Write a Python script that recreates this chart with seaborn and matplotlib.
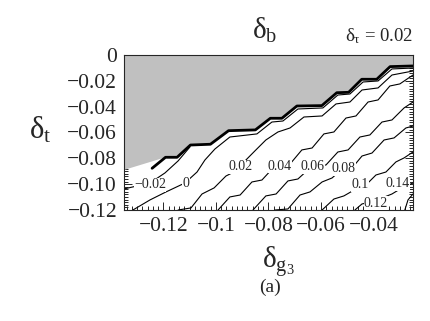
import numpy as np
import pandas as pd
import seaborn as sns
import matplotlib
matplotlib.use("Agg")
import matplotlib.pyplot as plt
from matplotlib.ticker import FixedLocator, FixedFormatter, MultipleLocator

sns.set_style("ticks")
plt.rcParams['font.family'] = ['Liberation Serif', 'DejaVu Serif']
plt.rcParams['mathtext.fontset'] = 'custom'
plt.rcParams['mathtext.rm'] = 'Liberation Serif'
plt.rcParams['mathtext.it'] = 'Liberation Serif'
plt.rcParams['mathtext.bf'] = 'Liberation Serif:bold'

# boundary of the allowed region (thick line), gray above it
bound_x = [-0.1243, -0.1192, -0.1148, -0.1097, -0.1021, -0.0952, -0.0850, -0.0793, -0.0749,
           -0.0692, -0.0597, -0.0540, -0.0495, -0.0445, -0.0388, -0.0337, -0.0250]
bound_y = [-0.0877, -0.0792, -0.0792, -0.0697, -0.0691, -0.0586, -0.0580, -0.0490, -0.0490,
           -0.0395, -0.0392, -0.0292, -0.0289, -0.0188, -0.0188, -0.0090, -0.0085]
gray_x = [-0.135, -0.135, -0.1192] + bound_x[2:] + [-0.025]
gray_y = [0.0, -0.089, -0.0792] + bound_y[2:] + [0.0]

# contour lines, one per level
x_m002 = [-0.1350, -0.1251, -0.1194, -0.1144, -0.1099]
y_m002 = [-0.1037, -0.0991, -0.0913, -0.0820, -0.0712]
x_000 = [-0.1316, -0.1251, -0.1190, -0.1118, -0.1072, -0.1042, -0.1004, -0.0947, -0.0844, -0.0787,
         -0.0745, -0.0688, -0.0593, -0.0536, -0.0490, -0.0440, -0.0383, -0.0330, -0.0250]
y_000 = [-0.1200, -0.1122, -0.1060, -0.0991, -0.0906, -0.0813, -0.0728, -0.0635, -0.0611, -0.0519,
         -0.0511, -0.0418, -0.0410, -0.0310, -0.0302, -0.0209, -0.0201, -0.0108, -0.0101]
x_002 = [-0.1144, -0.1095, -0.1053, -0.1007, -0.0962, -0.0924, -0.0886, -0.0848, -0.0810, -0.0764,
         -0.0718, -0.0665, -0.0596, -0.0543, -0.0490, -0.0444, -0.0383, -0.0330, -0.0250]
y_002 = [-0.1200, -0.1184, -0.1076, -0.1029, -0.0937, -0.0898, -0.0813, -0.0735, -0.0658, -0.0596,
         -0.0565, -0.0480, -0.0472, -0.0379, -0.0364, -0.0271, -0.0255, -0.0155, -0.0124]
x_004 = [-0.0992, -0.0947, -0.0908, -0.0863, -0.0825, -0.0779, -0.0718, -0.0673, -0.0634, -0.0589,
         -0.0551, -0.0505, -0.0467, -0.0421, -0.0383, -0.0338, -0.0300, -0.0250]
y_004 = [-0.1200, -0.1099, -0.1084, -0.0983, -0.0968, -0.0867, -0.0844, -0.0735, -0.0720, -0.0611,
         -0.0596, -0.0488, -0.0472, -0.0364, -0.0348, -0.0240, -0.0224, -0.0155]
x_006 = [-0.0859, -0.0810, -0.0771, -0.0726, -0.0688, -0.0642, -0.0581, -0.0536, -0.0497, -0.0452,
         -0.0414, -0.0368, -0.0330, -0.0284, -0.0250]
y_006 = [-0.1200, -0.1091, -0.1076, -0.0975, -0.0960, -0.0875, -0.0851, -0.0751, -0.0735, -0.0635,
         -0.0619, -0.0519, -0.0503, -0.0410, -0.0364]
x_008 = [-0.0775, -0.0726, -0.0680, -0.0642, -0.0596, -0.0558, -0.0528, -0.0482, -0.0444, -0.0406,
         -0.0360, -0.0322, -0.0277, -0.0250]
y_008 = [-0.1200, -0.1192, -0.1084, -0.1060, -0.0983, -0.0952, -0.0898, -0.0875, -0.0782, -0.0759,
         -0.0658, -0.0642, -0.0565, -0.0550]
x_010 = [-0.0596, -0.0551, -0.0513, -0.0467, -0.0429, -0.0391, -0.0353, -0.0315, -0.0284, -0.0250]
y_010 = [-0.1200, -0.1115, -0.1091, -0.1037, -0.1006, -0.0929, -0.0906, -0.0828, -0.0797, -0.0751]
x_012 = [-0.0471, -0.0444, -0.0406, -0.0368, -0.0330, -0.0292, -0.0250]
y_012 = [-0.1200, -0.1153, -0.1138, -0.1107, -0.1076, -0.1029, -0.0991]
x_014 = [-0.0281, -0.0269, -0.0250]
y_014 = [-0.1200, -0.1122, -0.1076]

levels = ['-0.02', '0', '0.02', '0.04', '0.06', '0.08', '0.1', '0.12', '0.14']
line_x = [x_m002, x_000, x_002, x_004, x_006, x_008, x_010, x_012, x_014]
line_y = [y_m002, y_000, y_002, y_004, y_006, y_008, y_010, y_012, y_014]

# where the level labels sit
label_x = [-0.1251, -0.1114, -0.0908, -0.0756, -0.0631, -0.0513, -0.0452, -0.0391, -0.0307]
label_y = [-0.1006, -0.0998, -0.0867, -0.0864, -0.0867, -0.0882, -0.1006, -0.1146, -0.0998]

xticks = [-0.12, -0.10, -0.08, -0.06, -0.04]
xticklabels = ['\u22120.12', '\u22120.1', '\u22120.08', '\u22120.06', '\u22120.04']
yticks = [0.0, -0.02, -0.04, -0.06, -0.08, -0.10, -0.12]
yticklabels = ['0', '\u22120.02', '\u22120.04', '\u22120.06', '\u22120.08', '\u22120.10', '\u22120.12']

rows = []
for lev, xs, ys in zip(levels, line_x, line_y):
    for a, b in zip(xs, ys):
        rows.append({'level': lev, 'x': a, 'y': b})
df = pd.DataFrame(rows)

fig = plt.figure(figsize=(4.31, 3.21), dpi=100)
ax = fig.add_axes([0.2877, 0.3458, 0.6705, 0.4829])

ax.fill(gray_x, gray_y, color='#c0c0c0', lw=0, zorder=1)
sns.lineplot(data=df, x='x', y='y', units='level', estimator=None, sort=False,
             color='black', lw=0.8, ax=ax, legend=False, zorder=2)
ax.plot(bound_x, bound_y, color='black', lw=2.0, zorder=3)

for lev, lx, ly in zip(levels, label_x, label_y):
    ax.text(lx, ly, lev.replace('-', '\u2212'), fontsize=10, ha='center', va='center', zorder=4,
            bbox=dict(facecolor='white', edgecolor='none', pad=0.2))

ax.set_xlim(-0.135, -0.025)
ax.set_ylim(-0.12, 0.0)
ax.xaxis.set_major_locator(FixedLocator(xticks))
ax.xaxis.set_major_formatter(FixedFormatter(xticklabels))
ax.yaxis.set_major_locator(FixedLocator(yticks))
ax.yaxis.set_major_formatter(FixedFormatter(yticklabels))
ax.xaxis.set_minor_locator(MultipleLocator(0.002))
ax.yaxis.set_minor_locator(MultipleLocator(0.002))
ax.tick_params(which='both', direction='in', top=True, right=True, width=0.7, labelsize=15.5, pad=5)
ax.tick_params(which='major', length=6)
ax.tick_params(which='minor', length=3)
ax.set_xlabel('')
ax.set_ylabel('')
for s in ax.spines.values():
    s.set_linewidth(0.8)

fig.text(265 / 431, 1 - 30 / 321, r'$\delta_{\mathrm{b}}$', fontsize=21, ha='center', va='center')
fig.text(413 / 431, 1 - 36 / 321, r'$\delta_{\tau}$ = 0.02', fontsize=13.5, ha='right', va='center')
fig.text(40 / 431, 1 - 130 / 321, r'$\delta_{\mathrm{t}}$', fontsize=22, ha='center', va='center')
fig.text(278 / 431, 1 - 262 / 321, r'$\delta_{\mathrm{g_3}}$', fontsize=21, ha='center', va='center')
fig.text(270 / 431, 1 - 287 / 321, '(a)', fontsize=14, ha='center', va='center')

fig.savefig('out.png', dpi=100)
